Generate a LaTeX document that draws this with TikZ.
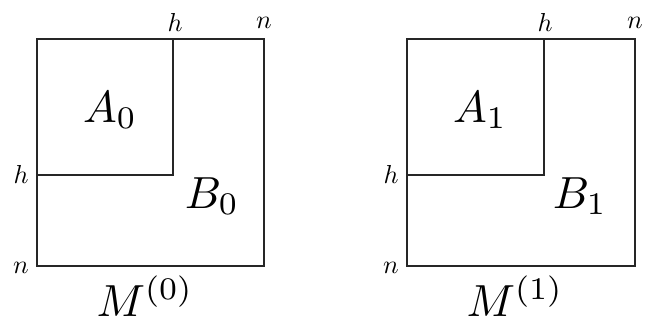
\documentclass[tikz,border=0pt]{standalone}
\begin{document}
\begin{tikzpicture}[x=1pt,y=-1pt,
  box/.style={draw=black!85,line width=1.1pt},
  small/.style={scale=2.6,inner sep=0pt},
  big/.style={scale=4.5,inner sep=0pt}]
\useasboundingbox (0,0) rectangle (646,324);
% left matrix
\draw[box] (37,39) rectangle (264,266);
\draw[box] (37,175) -| (173,39);
\node[small] (lht) at (175,22) {$h$};
\node[small] (lnt) at (264,23) {$n$};
\node[small] (lhl) at (21,174) {$h$};
\node[small] (lnl) at (21,268) {$n$};
\node[big] (A0) at (110,110) {$A_0$};
\node[big] (B0) at (212,196) {$B_0$};
\node[big,anchor=base] (M0) at (145,316) {$M^{(0)}$};
% right matrix
\draw[box] (407,39) rectangle (635,266);
\draw[box] (407,175) -| (544,39);
\node[small] (rht) at (545,22) {$h$};
\node[small] (rnt) at (635,23) {$n$};
\node[small] (rhl) at (391,174) {$h$};
\node[small] (rnl) at (391,268) {$n$};
\node[big] (A1) at (480,110) {$A_1$};
\node[big] (B1) at (580,196) {$B_1$};
\node[big,anchor=base] (M1) at (515,316) {$M^{(1)}$};
\end{tikzpicture}
\end{document}
